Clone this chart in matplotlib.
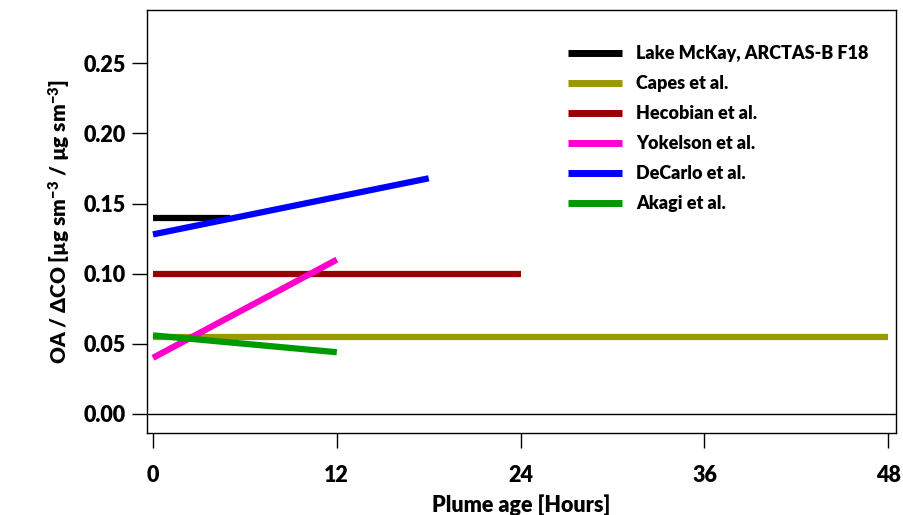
import numpy as np
import matplotlib.pyplot as plt

plt.rcParams['font.family'] = ['Lato', 'DejaVu Sans']
plt.rcParams['font.weight'] = 'heavy'
plt.rcParams['mathtext.default'] = 'regular'

# 各文献的 OA/ΔCO 随烟羽年龄变化（起点、终点）
labels = ["Lake McKay, ARCTAS-B F18", "Capes et al.", "Hecobian et al.",
          "Yokelson et al.", "DeCarlo et al.", "Akagi et al."]
colors = ["#000000", "#999900", "#990000", "#ff00cc", "#0000ff", "#009900"]
age_start = [0, 0, 0, 0, 0, 0]
age_end = [5, 48, 24, 12, 18, 12]
ratio_start = [0.140, 0.055, 0.100, 0.040, 0.128, 0.056]
ratio_end = [0.140, 0.055, 0.100, 0.110, 0.168, 0.044]

x_ticks = [0, 12, 24, 36, 48]
y_ticks = [0.00, 0.05, 0.10, 0.15, 0.20, 0.25]

fig = plt.figure(figsize=(9.04, 5.15), dpi=100)
ax = fig.add_axes([147 / 904, 82 / 515, 749 / 904, 423 / 515])

for i in range(len(labels)):
    ax.plot([age_start[i], age_end[i]], [ratio_start[i], ratio_end[i]],
            color=colors[i], linewidth=4.5, label=labels[i], solid_capstyle='butt')

ax.axhline(0, color='black', linewidth=1)

ax.set_xlim(-0.39, 48.5)
ax.set_ylim(-0.0136, 0.288)
ax.set_xticks(x_ticks)
ax.set_yticks(y_ticks)
ax.set_yticklabels(["%.2f" % v for v in y_ticks])
ax.tick_params(axis='both', direction='out', labelsize=15.5, width=1)
ax.tick_params(axis='x', length=11, pad=12)
ax.tick_params(axis='y', length=11, pad=4)
for s in ax.spines.values():
    s.set_linewidth(1)

ax.set_xlabel("Plume age [Hours]", fontsize=15.5, fontweight='heavy', labelpad=6)
ax.set_ylabel(r"OA / ΔCO [µg sm$^{-3}$ / µg sm$^{-3}$]", fontsize=15, fontweight='heavy', labelpad=8)

leg = ax.legend(loc='upper right', bbox_to_anchor=(0.985, 0.955), frameon=False,
                handlelength=3.0, handletextpad=0.8, labelspacing=0.72, fontsize=13)
for line in leg.get_lines():
    line.set_linewidth(5)

plt.savefig('out.png', dpi=100)
